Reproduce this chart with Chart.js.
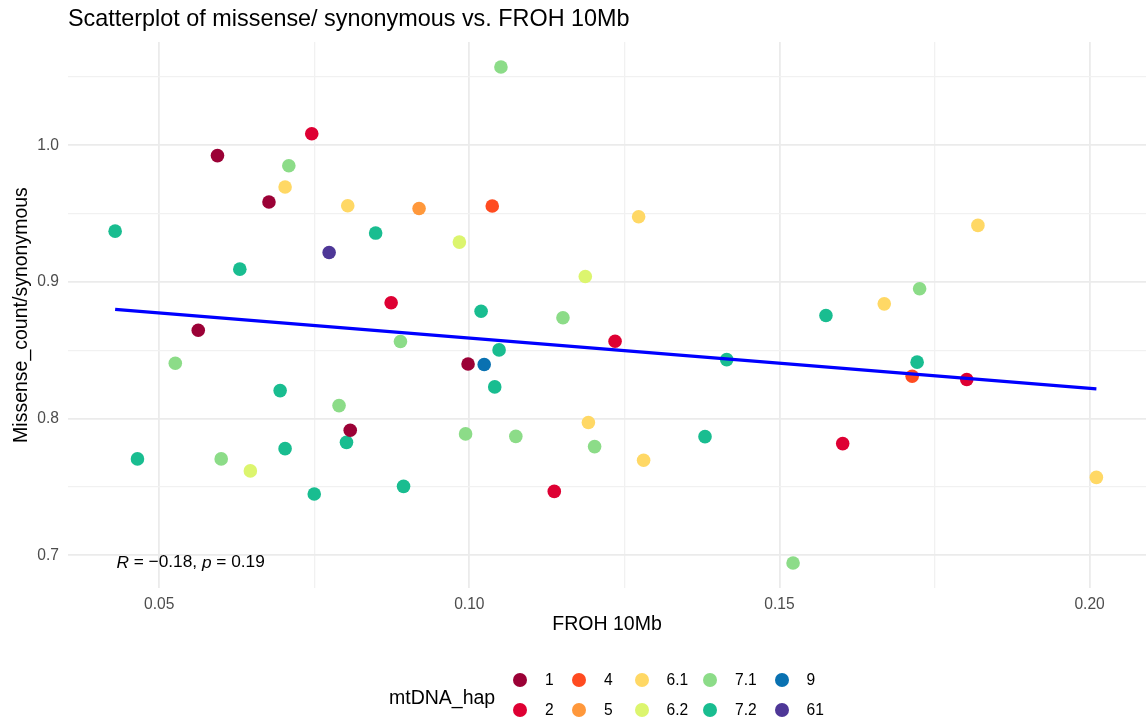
<!DOCTYPE html>
<html>
<head>
<meta charset="utf-8">
<script src="https://cdn.jsdelivr.net/npm/chart.js@4.4.0/dist/chart.umd.min.js"></script>
<style>
  html, body { margin: 0; padding: 0; background: #ffffff; }
  #wrap { position: relative; width: 1148px; height: 719px; overflow: hidden; }
  #chart { position: absolute; left: 0; top: 0; }
  #legend { position: absolute; left: 0; top: 0; width: 1148px; height: 719px; pointer-events: none;
            font-family: "Liberation Sans", Arial, Helvetica, sans-serif; color: #000; }
  #legTitle { position: absolute; left: 389px; top: 683px; font-size: 19.5px; line-height: 28px; white-space: nowrap; }
  .legItem { position: absolute; height: 30px; display: flex; flex-direction: row; align-items: center; font-size: 15.6px; white-space: nowrap; }
  .legDot { width: 14px; height: 14px; border-radius: 50%; margin-right: 18px; flex: none; }
</style>
</head>
<body>
<div id="wrap">
  <canvas id="chart" width="1148" height="719"></canvas>
  <div id="legend">
    <div id="legTitle"></div>
  </div>
</div>
<script>
// ---------------- data ----------------
const chartTitle = "Scatterplot of missense/ synonymous vs. FROH 10Mb";
const xAxisTitle = "FROH 10Mb";
const yAxisTitle = "Missense_count/synonymous";
const legendTitle = "mtDNA_hap";

const hapGroups = ["1", "2", "4", "5", "6.1", "6.2", "7.1", "7.2", "9", "61"];
const hapColors = ["#9B0136", "#DE0033", "#FF4B20", "#FF983B", "#FFD865",
                   "#DCF56E", "#8CDC88", "#19BD90", "#0971B1", "#4E3797"];

// one entry per sample
const sampleHap = [
  "1","1","1","1","1",
  "2","2","2","2","2","2",
  "4","4",
  "5",
  "6.1","6.1","6.1","6.1","6.1","6.1","6.1","6.1",
  "6.2","6.2","6.2",
  "7.1","7.1","7.1","7.1","7.1","7.1","7.1","7.1","7.1","7.1","7.1","7.1",
  "7.2","7.2","7.2","7.2","7.2","7.2","7.2","7.2","7.2","7.2","7.2","7.2","7.2","7.2","7.2","7.2",
  "9",
  "61"
];
const sampleFroh = [
  0.0594, 0.0677, 0.0563, 0.0998, 0.0808,
  0.0746, 0.0874, 0.1235, 0.1137, 0.1802, 0.1602,
  0.1037, 0.1714,
  0.0919,
  0.0703, 0.0804, 0.1273, 0.1192, 0.1281, 0.1820, 0.1669, 0.2011,
  0.0984, 0.1187, 0.0647,
  0.0526, 0.0709, 0.1051, 0.0889, 0.1151, 0.0790, 0.0600, 0.0994, 0.1075, 0.1202, 0.1726, 0.1522,
  0.0429, 0.0630, 0.0849, 0.1019, 0.1048, 0.1041, 0.1415, 0.1380, 0.0894, 0.0695, 0.0802, 0.0465, 0.0703, 0.0750, 0.1575, 0.1722,
  0.1024,
  0.0774
];
const sampleRatio = [
  0.9925, 0.9585, 0.8647, 0.8400, 0.7915,
  1.0085, 0.8848, 0.8566, 0.7467, 0.8286, 0.7817,
  0.9556, 0.8310,
  0.9538,
  0.9695, 0.9558, 0.9477, 0.7971, 0.7695, 0.9414, 0.8840, 0.7570,
  0.9292, 0.9040, 0.7617,
  0.8405, 0.9851, 1.0574, 0.8564, 0.8738, 0.8095, 0.7705, 0.7888, 0.7870, 0.7795, 0.8950, 0.6943,
  0.9372, 0.9094, 0.9358, 0.8786, 0.8503, 0.8232, 0.8432, 0.7868, 0.7504, 0.8205, 0.7826, 0.7705, 0.7780, 0.7448, 0.8755, 0.8413,
  0.8396,
  0.9216
];

// fitted line end points
const fitX = [0.0429, 0.2011];
const fitY = [0.8799, 0.8218];

// correlation label
const corParts = [["R", true], [" = \u22120.18, ", false], ["p", true], [" = 0.19", false]];
const corAnchorX = 0.0431;
const corAnchorY = 0.6945;

// axes
const xRange = [0.0353, 0.2091];
const yRange = [0.676, 1.0756];
const xTicks = [0.05, 0.075, 0.10, 0.125, 0.15, 0.175, 0.20];
const xTickLabels = ["0.05", "", "0.10", "", "0.15", "", "0.20"];
const yTicks = [0.70, 0.75, 0.80, 0.85, 0.90, 0.95, 1.00, 1.05];
const yTickLabels = ["0.7", "", "0.8", "", "0.9", "", "1.0", ""];

// ---------------- build chart ----------------
const FONT = '"Liberation Sans", Arial, Helvetica, sans-serif';

const scatterSets = hapGroups.map((g, gi) => {
  const pts = [];
  sampleHap.forEach((h, i) => { if (h === g) pts.push({ x: sampleFroh[i], y: sampleRatio[i] }); });
  return {
    type: 'scatter',
    label: g,
    data: pts,
    backgroundColor: hapColors[gi],
    borderColor: hapColors[gi],
    borderWidth: 0,
    pointRadius: 6.8,
    pointHoverRadius: 6.8,
    clip: false,
    order: 1
  };
});

const fitSet = {
  type: 'line',
  label: 'fit',
  data: fitX.map((v, i) => ({ x: v, y: fitY[i] })),
  borderColor: '#0000FF',
  borderWidth: 3.2,
  pointRadius: 0,
  fill: false,
  tension: 0,
  clip: false,
  order: 0
};

const corPlugin = {
  id: 'corLabel',
  afterDatasetsDraw(chart) {
    const { ctx, scales } = chart;
    let px = scales.x.getPixelForValue(corAnchorX);
    const py = scales.y.getPixelForValue(corAnchorY);
    ctx.save();
    ctx.fillStyle = '#000000';
    ctx.textBaseline = 'middle';
    ctx.textAlign = 'left';
    corParts.forEach(([txt, italic]) => {
      ctx.font = (italic ? 'italic ' : '') + '17.3px ' + FONT;
      ctx.fillText(txt, px, py);
      px += ctx.measureText(txt).width;
    });
    ctx.restore();
  }
};

const isMajorX = (ctx) => ctx.tick && xTickLabels[xTicks.indexOf(ctx.tick.value)] !== "";
const isMajorY = (ctx) => ctx.tick && yTickLabels[yTicks.indexOf(ctx.tick.value)] !== "";

new Chart(document.getElementById('chart'), {
  data: { datasets: scatterSets.concat([fitSet]) },
  options: {
    responsive: false,
    animation: false,
    layout: { autoPadding: false, padding: { top: 0, right: 2, bottom: 83, left: 0 } },
    plugins: {
      legend: { display: false },
      tooltip: { enabled: false },
      title: {
        display: true,
        text: chartTitle,
        align: 'start',
        fullSize: false,
        color: '#000000',
        font: { family: FONT, size: 23.4, weight: 'normal' },
        padding: { top: 6, bottom: 8 }
      }
    },
    scales: {
      x: {
        type: 'linear',
        min: xRange[0],
        max: xRange[1],
        afterBuildTicks: (s) => { s.ticks = xTicks.map(v => ({ value: v })); },
        afterFit: (s) => { s.height = 48; },
        ticks: {
          autoSkip: false,
          maxRotation: 0,
          padding: 7,
          color: '#4D4D4D',
          font: { family: FONT, size: 15.6 },
          callback: (v, i) => xTickLabels[i]
        },
        grid: {
          drawTicks: false,
          color: (ctx) => isMajorX(ctx) ? '#EBEBEB' : '#F1F1F1',
          lineWidth: (ctx) => isMajorX(ctx) ? 1.8 : 1.3
        },
        border: { display: false },
        title: {
          display: true,
          text: xAxisTitle,
          color: '#000000',
          font: { family: FONT, size: 19.5 },
          padding: { top: 0, bottom: 0 }
        }
      },
      y: {
        type: 'linear',
        min: yRange[0],
        max: yRange[1],
        afterBuildTicks: (s) => { s.ticks = yTicks.map(v => ({ value: v })); },
        afterFit: (s) => { s.width = 68; },
        ticks: {
          autoSkip: false,
          padding: 9,
          color: '#4D4D4D',
          font: { family: FONT, size: 15.6 },
          callback: (v, i) => yTickLabels[i]
        },
        grid: {
          drawTicks: false,
          color: (ctx) => isMajorY(ctx) ? '#EBEBEB' : '#F1F1F1',
          lineWidth: (ctx) => isMajorY(ctx) ? 1.8 : 1.3
        },
        border: { display: false },
        title: {
          display: true,
          text: yAxisTitle,
          color: '#000000',
          font: { family: FONT, size: 19.5 },
          padding: { top: 10, bottom: 0 }
        }
      }
    }
  },
  plugins: [corPlugin]
});

// ---------------- legend (HTML text) ----------------
document.getElementById('legTitle').textContent = legendTitle;
const legendBox = document.getElementById('legend');
const legColumnDotX = [520, 579, 641.5, 710, 781.5];   // dot centre of each legend column
const legRowY = [680, 710];                           // centre of each legend row
hapGroups.forEach((g, gi) => {
  const c = Math.floor(gi / 2), r = gi % 2;
  const item = document.createElement('div');
  item.className = 'legItem';
  item.style.left = (legColumnDotX[c] - 7) + 'px';
  item.style.top = (legRowY[r] - 15) + 'px';
  const dot = document.createElement('span');
  dot.className = 'legDot';
  dot.style.background = hapColors[gi];
  const lab = document.createElement('span');
  lab.textContent = g;
  item.appendChild(dot);
  item.appendChild(lab);
  legendBox.appendChild(item);
});
</script>
</body>
</html>
